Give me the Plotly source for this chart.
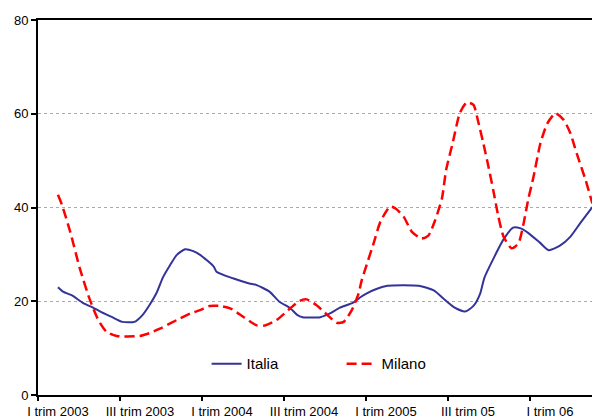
import plotly.graph_objects as go

# x positions in months since "I trim 2003"
italia_x = [0.0, 0.4, 1.0, 1.85, 2.6, 3.1, 3.9, 4.7, 5.6, 6.2, 6.7, 7.2, 7.7, 8.2, 8.7, 9.3, 9.9,
            10.4, 11.4, 11.6, 12.8, 14.0, 14.5, 15.5, 16.2, 17.0, 17.5, 17.9, 19.2, 19.9, 20.6,
            21.6, 22.1, 22.6, 23.3, 24.1, 26.4, 27.5, 28.2, 29.0, 29.8, 30.4, 30.9, 31.2, 32.0,
            32.6, 33.3, 33.8, 34.4, 35.3, 35.9, 36.7, 37.5, 38.2, 39.1]
italia_y = [23.0, 22.0, 21.3, 19.6, 18.6, 17.8, 16.7, 15.6, 15.6, 17.1, 19.2, 21.7, 25.2, 27.7, 29.9,
            31.1, 30.7, 29.9, 27.4, 26.3, 24.9, 23.8, 23.5, 22.0, 19.9, 18.5, 17.1, 16.6, 16.6, 17.4,
            18.6, 19.7, 20.8, 21.7, 22.6, 23.3, 23.3, 22.3, 20.6, 18.7, 17.8, 19.0, 21.7, 25.0, 29.9,
            33.2, 35.7, 35.6, 34.6, 32.4, 30.9, 31.8, 33.8, 36.6, 40.1]

milano_x = [0.0, 0.3, 0.9, 1.6, 2.3, 2.95, 3.55, 4.3, 6.0, 6.7, 7.5, 8.7, 9.7, 10.4, 11.1, 11.85,
            12.6, 13.55, 14.5, 15.1, 16.0, 17.0, 17.7, 18.2, 18.9, 19.7, 20.4, 20.9, 21.5, 22.0,
            22.2, 22.7, 23.1, 23.6, 24.3, 24.7, 25.3, 25.9, 26.6, 27.1, 27.6, 28.1, 28.4, 28.9,
            29.4, 29.9, 30.4, 30.75, 31.1, 31.5, 31.85, 32.2, 32.6, 33.2, 33.7, 34.05, 34.4, 34.8,
            35.3, 35.8, 36.4, 37.0, 37.5, 37.95, 38.6, 39.1]
milano_y = [42.7, 40.5, 34.8, 27.0, 20.6, 16.0, 13.5, 12.6, 12.6, 13.2, 14.2, 16.0, 17.4, 18.1, 19.0,
            19.0, 18.5, 16.7, 14.9, 14.8, 16.0, 18.5, 20.1, 20.4, 19.2, 17.1, 15.4, 15.6, 18.1, 21.7,
            24.2, 28.8, 32.4, 37.0, 40.2, 39.8, 38.0, 34.8, 33.4, 34.0, 37.3, 42.0, 48.0, 54.0, 60.1,
            62.4, 61.9, 58.3, 54.0, 48.7, 43.7, 38.4, 33.8, 31.3, 32.4, 36.3, 41.6, 46.6, 53.7, 57.9,
            60.1, 58.7, 55.8, 51.6, 45.9, 40.9]

tick_labels = ["I trim 2003", "III trim 2003", "I trim 2004", "III trim 2004",
               "I trim 2005", "III trim 05", "I trim 06"]
label_pos = [0, 6, 12, 18, 24, 30, 36]
tick_marks = [-1.46, 4.54, 10.54, 16.54, 22.54, 28.54, 34.54, 40.54]
y_ticks = [0, 20, 40, 60, 80]

XR = [-1.46, 39.66]
FONT = "Arial, Liberation Sans, sans-serif"

fig = go.Figure()
fig.add_trace(go.Scatter(x=italia_x, y=italia_y, name="Italia", mode="lines",
                         line=dict(color="#333399", width=2, shape="spline", smoothing=0.6)))
fig.add_trace(go.Scatter(x=milano_x, y=milano_y, name="Milano", mode="lines",
                         line=dict(color="#FF0000", width=2.5, shape="spline", smoothing=0.6,
                                   dash="10px,5px")))
# invisible trace to anchor tick-mark axis
fig.add_trace(go.Scatter(x=[XR[0]], y=[0], xaxis="x2", mode="markers",
                         marker=dict(opacity=0), showlegend=False, hoverinfo="skip"))

# page body has an 8px default margin; size the figure so the plot lands where the reference has it
fig.update_layout(
    width=592, height=411,
    margin=dict(l=30, r=0, t=12, b=24),
    paper_bgcolor="white", plot_bgcolor="white",
    font=dict(family=FONT, size=13, color="black"),
    showlegend=True,
    legend=dict(orientation="h", x=0.30, y=0.083, xanchor="left", yanchor="middle",
                bgcolor="rgba(0,0,0,0)", font=dict(size=15),
                entrywidth=90, entrywidthmode="pixels", itemwidth=30),
    xaxis=dict(range=XR, tickmode="array", tickvals=label_pos, ticktext=tick_labels,
               ticks="", showgrid=False, zeroline=False, showline=True,
               linecolor="black", linewidth=2, mirror=True, ticklabelstandoff=3,
               tickfont=dict(size=13)),
    xaxis2=dict(range=XR, overlaying="x", side="bottom", tickmode="array",
                tickvals=tick_marks, showticklabels=False, ticks="outside",
                ticklen=5, tickwidth=1.5, tickcolor="black", showgrid=False,
                zeroline=False, showline=False),
    yaxis=dict(range=[0, 80], tickmode="array", tickvals=y_ticks, ticks="outside",
               ticklen=5, tickwidth=1.5, tickcolor="black", showgrid=True,
               gridcolor="#aaaaaa", griddash="dot", gridwidth=1, zeroline=False,
               showline=True, linecolor="black", linewidth=2, tickfont=dict(size=13)),
)

fig.write_html("out.html")
